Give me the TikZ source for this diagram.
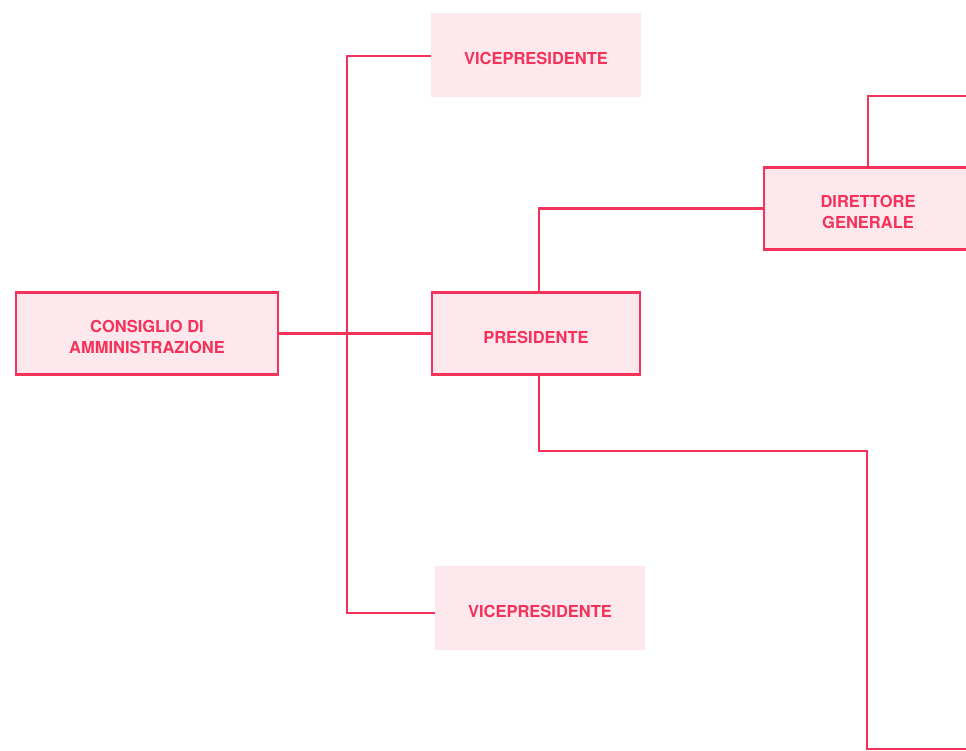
\documentclass[tikz,border=0pt]{standalone}
\usepackage{fontspec}
\setmainfont{TeX Gyre Heros}
\definecolor{org}{HTML}{F5325A}
\definecolor{orgfill}{HTML}{FDE8EE}
\begin{document}
\begin{tikzpicture}[x=1pt,y=-1pt,
  lbl/.style={inner sep=0pt,align=center,text=org,text height=19pt,text depth=0pt,font=\fontsize{16.5}{21}\selectfont\bfseries},
  two/.style={text height=40pt},
  box/.style={lbl,draw=org,line width=2.6pt,fill=orgfill,minimum width=208pt,minimum height=82pt},
  plainbox/.style={lbl,fill=orgfill,minimum width=210pt,minimum height=84pt},
  conn/.style={draw=org,line width=2.6pt}]
\useasboundingbox (0,0) rectangle (966,751);
\begin{scope}
\clip (0,0) rectangle (966,751);
\node[box,two,minimum width=262pt] (cda) at (147,333.5) {CONSIGLIO DI\\AMMINISTRAZIONE};
\node[box] (pres) at (536,333.5) {PRESIDENTE};
\node[plainbox] (vp1) at (536,55) {VICEPRESIDENTE};
\node[plainbox] (vp2) at (540,607.5) {VICEPRESIDENTE};
\node[box,two] (dg) at (868,208.5) {DIRETTORE\\GENERALE};
\coordinate (sp) at (347,333.5);
\coordinate (e1) at (975,96);
\coordinate (e2) at (975,749);
\coordinate (pt) at (539,292);
\coordinate (pb) at (539,375);
\coordinate (bend) at (867,451);
\draw[conn] (cda.east) -- (pres.west);
\draw[conn] (vp1.west |- 0,56) -| (sp) |- (vp2.west |- 0,613);
\draw[conn] (pt) |- (dg.west);
\draw[conn] (dg.north) |- (e1);
\draw[conn] (pb) |- (bend) |- (e2);
\end{scope}
\end{tikzpicture}
\end{document}
